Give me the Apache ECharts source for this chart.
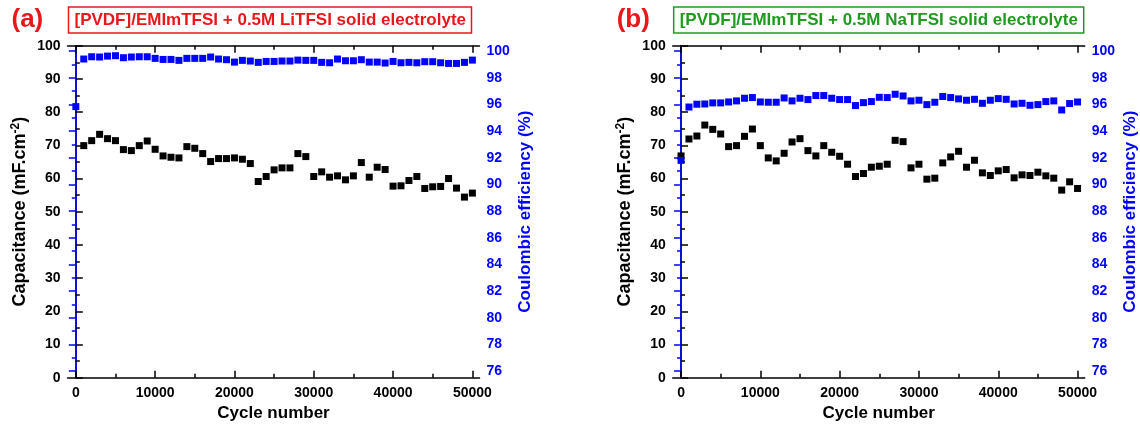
<!DOCTYPE html>
<html>
<head>
<meta charset="utf-8">
<script src="https://cdn.jsdelivr.net/npm/echarts@6/dist/echarts.min.js"></script>
<style>
html,body{margin:0;padding:0;background:#fff;}
#chart{width:1140px;height:429px;}
</style>
</head>
<body>
<div id="chart"></div>
<script>
// ---------- data ----------
const cycles = [0,1000,2000,3000,4000,5000,6000,7000,8000,9000,10000,11000,12000,13000,14000,15000,16000,17000,18000,19000,20000,21000,22000,23000,24000,25000,26000,27000,28000,29000,30000,31000,32000,33000,34000,35000,36000,37000,38000,39000,40000,41000,42000,43000,44000,45000,46000,47000,48000,49000,50000];

const capLi = [null,69.9,71.4,73.3,72.0,71.4,68.7,68.4,69.9,71.3,68.8,66.8,66.4,66.2,69.6,69.1,67.5,65.1,66.0,66.0,66.2,65.8,64.5,59.1,60.6,62.6,63.2,63.2,67.5,66.6,60.6,62.0,60.4,60.8,59.6,60.8,64.8,60.4,63.4,62.7,57.7,57.8,59.4,60.6,57.0,57.5,57.6,60.0,57.1,54.4,55.6];
const ceLi = [95.83,99.40,99.57,99.55,99.62,99.65,99.50,99.55,99.57,99.57,99.45,99.37,99.37,99.30,99.45,99.45,99.45,99.55,99.40,99.35,99.17,99.30,99.25,99.15,99.22,99.22,99.25,99.25,99.32,99.30,99.30,99.15,99.12,99.40,99.27,99.27,99.35,99.17,99.17,99.10,99.22,99.12,99.15,99.12,99.20,99.20,99.12,99.07,99.07,99.15,99.32];

const capNa = [66.8,71.9,72.8,76.1,74.8,73.4,69.6,69.9,72.7,74.9,69.9,66.2,65.3,67.6,71.0,72.0,68.4,66.8,69.9,67.9,66.7,64.3,60.6,61.5,63.4,63.7,64.3,71.5,71.1,63.2,64.3,59.8,60.1,64.7,66.5,68.2,63.4,65.5,61.7,60.9,62.3,62.7,60.2,61.1,60.9,61.9,60.8,60.1,56.5,59.0,57.0];
const ceNa = [91.80,95.80,96.01,96.03,96.11,96.11,96.18,96.26,96.46,96.51,96.18,96.16,96.16,96.48,96.26,96.46,96.36,96.66,96.66,96.46,96.36,96.36,95.91,96.13,96.21,96.53,96.51,96.76,96.63,96.26,96.31,95.98,96.16,96.59,96.51,96.41,96.31,96.38,96.08,96.31,96.43,96.38,96.03,96.08,95.93,95.98,96.21,96.26,95.58,96.06,96.18];

const xMajorTicks = [0,10000,20000,30000,40000,50000];
const xMinorTicks = [5000,15000,25000,35000,45000];
const ceMajorTicks = [76,78,80,82,84,86,88,90,92,94,96,98,100];
const ceMinorTicks = [77,79,81,83,85,87,89,91,93,95,97,99];

const panelLetters = ['(a)','(b)'];
const panelTitles = ['[PVDF]/EMImTFSI + 0.5M LiTFSI solid electrolyte','[PVDF]/EMImTFSI + 0.5M NaTFSI solid electrolyte'];
const xName = 'Cycle number';
const yLeftName = 'Capacitance (mF.cm';
const yRightName = 'Coulombic efficiency (%)';

// ---------- style ----------
const FONT = 'Arial, "Liberation Sans", sans-serif';
const RED = '#e8171c';
const GREEN = '#1f9a1f';
const BLUE = '#0000ff';
const X_MIN = -1050, X_MAX = 50900;
const CE_MIN = 75.5, CE_MAX = 100.4;

const option = {
  backgroundColor: '#fff',
  animation: false,
  title: [], grid: [], xAxis: [], yAxis: [], series: []
};

function addPanel(p, left, titleColor, cap, ce) {
  option.grid.push({left: left, top: 45.7, width: 412, height: 332, containLabel: false});
  option.title.push({
    text: panelLetters[p], left: left - 61, top: 2,
    textStyle: {color: RED, fontSize: 26, fontWeight: 'bold', fontFamily: FONT}
  });
  option.title.push({
    text: panelTitles[p], left: left + 1, top: 7,
    padding: [5, 6, 4, 6], borderColor: titleColor, borderWidth: 1.5,
    textStyle: {color: titleColor, fontSize: 17, fontWeight: 'bold', fontFamily: FONT}
  });
  const xBase = option.xAxis.length;
  const common = {gridIndex: p, type: 'value', min: X_MIN, max: X_MAX, splitLine: {show: false}};
  option.xAxis.push(Object.assign({}, common, {
    position: 'bottom',
    axisLine: {show: true, lineStyle: {color: '#000', width: 1.5}},
    axisTick: {show: true, inside: true, length: 7, customValues: xMajorTicks, lineStyle: {color: '#000', width: 1.5}},
    axisLabel: {customValues: xMajorTicks, formatter: v => String(v), color: '#000', fontSize: 14, fontWeight: 'bold', fontFamily: FONT, margin: 8},
    name: xName, nameLocation: 'middle', nameGap: 27,
    nameTextStyle: {color: '#000', fontSize: 17, fontWeight: 'bold', fontFamily: FONT}
  }));
  option.xAxis.push(Object.assign({}, common, {
    position: 'bottom',
    axisLine: {show: false},
    axisTick: {show: true, inside: true, length: 4, customValues: xMinorTicks, lineStyle: {color: '#000', width: 1.5}},
    axisLabel: {show: false}
  }));
  option.xAxis.push(Object.assign({}, common, {
    position: 'top',
    axisLine: {show: true, lineStyle: {color: '#000', width: 1.5}},
    axisTick: {show: true, inside: true, length: 7, customValues: xMajorTicks, lineStyle: {color: '#000', width: 1.5}},
    axisLabel: {show: false}
  }));
  option.xAxis.push(Object.assign({}, common, {
    position: 'top',
    axisLine: {show: false},
    axisTick: {show: true, inside: true, length: 4, customValues: xMinorTicks, lineStyle: {color: '#000', width: 1.5}},
    axisLabel: {show: false}
  }));
  const yBase = option.yAxis.length;
  option.yAxis.push({
    gridIndex: p, type: 'value', min: 0, max: 100, interval: 10, position: 'left',
    splitLine: {show: false},
    axisLine: {show: true, lineStyle: {color: '#000', width: 1.5}},
    axisTick: {show: true, inside: true, length: 7, lineStyle: {color: '#000', width: 1.5}},
    minorTick: {show: true, splitNumber: 2, length: 4, lineStyle: {color: '#000', width: 1.5}},
    axisLabel: {color: '#000', fontSize: 14, fontWeight: 'bold', fontFamily: FONT, margin: 7},
    name: '{a|' + yLeftName + '}{s|-2}{a|)}', nameLocation: 'middle', nameGap: 37, nameRotate: 90,
    nameTextStyle: {
      rich: {
        a: {color: '#000', fontSize: 18, fontWeight: 'bold', fontFamily: FONT},
        s: {color: '#000', fontSize: 12, fontWeight: 'bold', fontFamily: FONT, padding: [0, 0, 9, 0]}
      }
    }
  });
  option.yAxis.push({
    gridIndex: p, type: 'value', min: CE_MIN, max: CE_MAX, position: 'right',
    splitLine: {show: false},
    axisLine: {show: true, lineStyle: {color: BLUE, width: 1.5}},
    axisTick: {show: true, inside: true, length: 7, customValues: ceMajorTicks, lineStyle: {color: BLUE, width: 1.5}},
    axisLabel: {customValues: ceMajorTicks, color: BLUE, fontSize: 14, fontWeight: 'bold', fontFamily: FONT, margin: 7},
    name: yRightName, nameLocation: 'middle', nameGap: 37, nameRotate: 90,
    nameTextStyle: {color: BLUE, fontSize: 17, fontWeight: 'bold', fontFamily: FONT}
  });
  option.yAxis.push({
    gridIndex: p, type: 'value', min: CE_MIN, max: CE_MAX, position: 'right',
    splitLine: {show: false},
    axisLine: {show: false},
    axisTick: {show: true, inside: true, length: 4, customValues: ceMinorTicks, lineStyle: {color: BLUE, width: 1.5}},
    axisLabel: {show: false}
  });
  option.series.push({
    type: 'scatter', xAxisIndex: xBase, yAxisIndex: yBase,
    symbol: 'rect', symbolSize: 7,
    itemStyle: {color: '#000', opacity: 1},
    data: cycles.map((c, i) => [c, cap[i]]).filter(d => d[1] !== null)
  });
  option.series.push({
    type: 'scatter', xAxisIndex: xBase, yAxisIndex: yBase + 1,
    symbol: 'rect', symbolSize: 7,
    itemStyle: {color: BLUE, opacity: 1},
    data: cycles.map((c, i) => [c, ce[i]])
  });
}

addPanel(0, 67.5, RED, capLi, ceLi);
addPanel(1, 672.7, GREEN, capNa, ceNa);

const chart = echarts.init(document.getElementById('chart'), null, {renderer: 'canvas'});
chart.setOption(option);
</script>
</body>
</html>
